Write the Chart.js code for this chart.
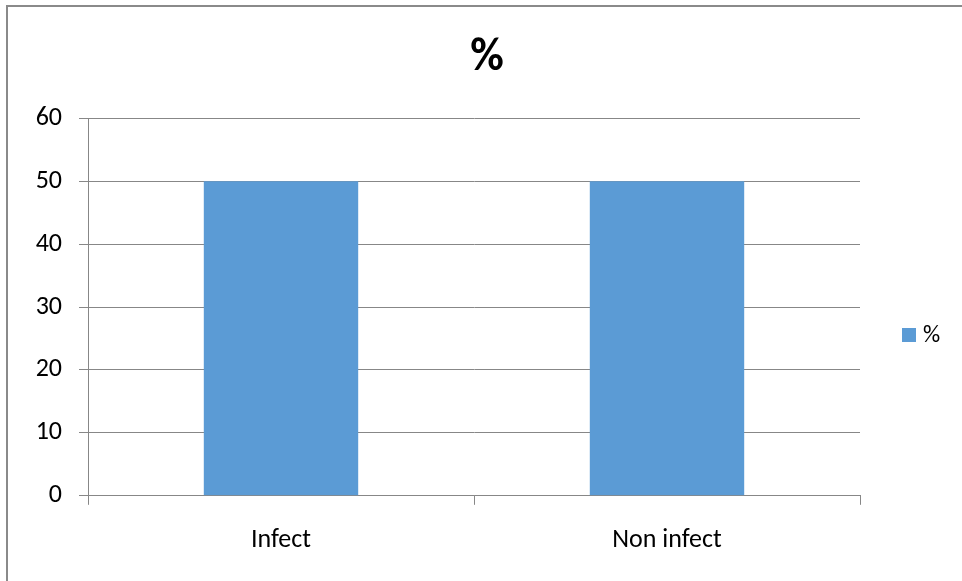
<!DOCTYPE html>
<html>
<head>
<meta charset="utf-8">
<script src="https://cdn.jsdelivr.net/npm/chart.js@4/dist/chart.umd.min.js"></script>
<style>
  html, body { margin: 0; padding: 0; background: #ffffff; }
  #wrap { width: 962px; height: 581px; position: relative; }
</style>
</head>
<body>
<div id="wrap"><canvas id="chart" width="962" height="581"></canvas></div>
<script>
// Categories and values
const categories = ['Infect', 'Non infect'];
const percentValues = [50, 50];
const seriesName = '%';
const yTickMin = 0;
const yTickMax = 60;
const yTickStep = 10;

const FONT = "Carlito, 'Liberation Sans', Arial, sans-serif";
const GRID = '#878787';
const BAR = '#5b9bd5';

// Frame lines along the top and left edge of the chart
const framePlugin = {
  id: 'frame',
  beforeDraw(chart) {
    const ctx = chart.ctx;
    ctx.save();
    ctx.fillStyle = '#ffffff';
    ctx.fillRect(0, 0, chart.width, chart.height);
    ctx.strokeStyle = '#8a8a8a';
    ctx.lineWidth = 2;
    ctx.beginPath();
    ctx.moveTo(7, chart.height);
    ctx.lineTo(7, 6);
    ctx.lineTo(chart.width, 6);
    ctx.stroke();
    ctx.restore();
  }
};

// Legend entry drawn to the right of the plot
const sideLegendPlugin = {
  id: 'sideLegend',
  afterDraw(chart) {
    const ctx = chart.ctx;
    const ds = chart.data.datasets[0];
    const area = chart.chartArea;
    const x = area.right + 42;
    const y = 335;
    ctx.save();
    ctx.fillStyle = ds.backgroundColor;
    ctx.fillRect(x, y - 7, 14, 14);
    ctx.fillStyle = '#000000';
    ctx.font = '24px ' + FONT;
    ctx.textBaseline = 'middle';
    ctx.textAlign = 'left';
    ctx.fillText(ds.label, x + 21, y + 1);
    ctx.restore();
  }
};

new Chart(document.getElementById('chart'), {
  type: 'bar',
  data: {
    labels: categories,
    datasets: [{
      label: seriesName,
      data: percentValues,
      backgroundColor: BAR,
      borderWidth: 0,
      categoryPercentage: 1.0,
      barPercentage: 0.4
    }]
  },
  options: {
    responsive: false,
    animation: false,
    layout: { padding: { left: 12, right: 0, top: 0, bottom: 5 } },
    plugins: {
      legend: { display: false },
      tooltip: { enabled: false },
      title: {
        display: true,
        text: seriesName,
        color: '#000000',
        font: { family: FONT, size: 46, weight: 'bold' },
        padding: { top: 31, bottom: 32 }
      }
    },
    scales: {
      x: {
        offset: true,
        grid: {
          offset: true,
          drawOnChartArea: false,
          tickLength: 9,
          color: GRID,
          lineWidth: 1
        },
        border: { color: GRID, width: 1 },
        ticks: {
          color: '#000000',
          font: { family: FONT, size: 26 },
          padding: 20
        }
      },
      y: {
        min: yTickMin,
        max: yTickMax,
        ticks: {
          stepSize: yTickStep,
          color: '#000000',
          font: { family: FONT, size: 26 },
          padding: 17
        },
        grid: {
          color: GRID,
          lineWidth: 1,
          tickLength: 9
        },
        border: { color: GRID, width: 1 },
        afterFit(scale) { scale.width = 76; }
      },
      // empty right-hand band that holds the legend entry
      legendBand: {
        type: 'linear',
        position: 'right',
        min: yTickMin,
        max: yTickMax,
        ticks: { display: false },
        grid: { display: false },
        border: { display: false },
        afterFit(scale) { scale.width = 102; }
      }
    }
  },
  plugins: [framePlugin, sideLegendPlugin]
});
</script>
</body>
</html>
